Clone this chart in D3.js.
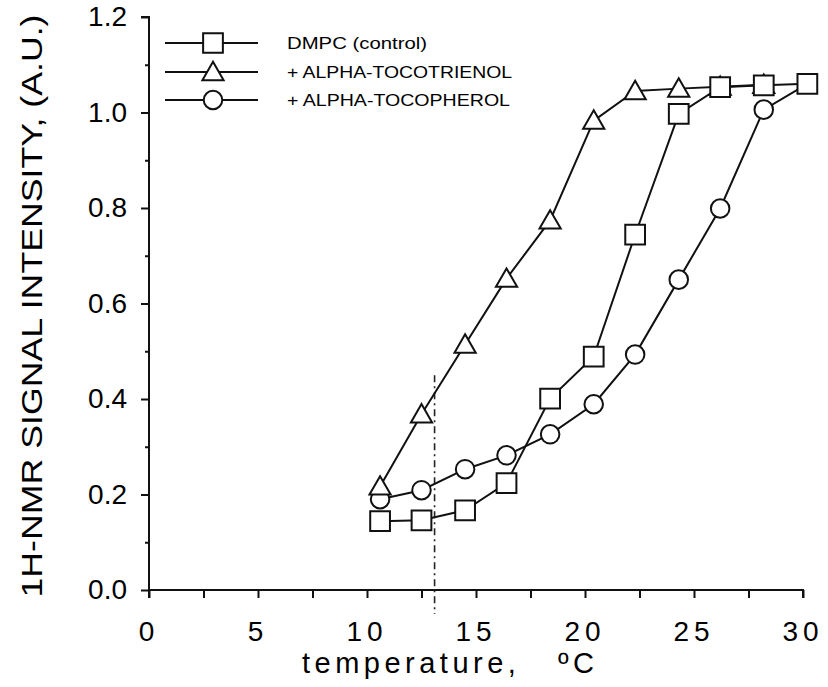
<!DOCTYPE html>
<html>
<head>
<meta charset="utf-8">
<script src="https://cdn.jsdelivr.net/npm/d3@7"></script>
<style>
  body { margin: 0; background: #fff; }
  svg { display: block; font-family: "Liberation Sans", Arial, sans-serif; }
</style>
</head>
<body>
<div id="chart"></div>
<script>
// temperature (deg C)
var temps = [10.6, 12.5, 14.5, 16.4, 18.4, 20.4, 22.3, 24.3, 26.2, 28.2, 30.2];
var dmpc = [0.144, 0.146, 0.167, 0.224, 0.401, 0.489, 0.744, 0.997, 1.053, 1.057, 1.06];
var tocotrienol = [0.217, 0.368, 0.514, 0.652, 0.774, 0.983, 1.045, 1.05, 1.054, 1.058];
var tocopherol = [0.19, 0.209, 0.253, 0.282, 0.326, 0.389, 0.493, 0.65, 0.799, 1.006, 1.06];

var xTicks = [0, 2.5, 5, 7.5, 10, 12.5, 15, 17.5, 20, 22.5, 25, 27.5, 30];
var xLabels = [0, 5, 10, 15, 20, 25, 30];
var yTicks = [0, 0.2, 0.4, 0.6, 0.8, 1.0, 1.2];
var yMinor = [0.1, 0.3, 0.5, 0.7, 0.9, 1.1];

var legendNames = ["DMPC (control)", "+ ALPHA-TOCOTRIENOL", "+ ALPHA-TOCOPHEROL"];
var legendShapes = ["square", "triangle", "circle"];
var guideTemp = 13.1;

var size = { width: 828, height: 687 };

var svg = d3.select('#chart')
            .append('svg')
            .attr('width', size.width)
            .attr('height', size.height);

var x = d3.scaleLinear().domain([0, 30]).range([149, 803]);
var y = d3.scaleLinear().domain([0, 1.2]).range([590, 17]);

// axes
var xAxis = svg.append('g')
  .attr('transform', 'translate(0,' + y(0) + ')')
  .call(d3.axisBottom(x).tickValues(xTicks).tickSize(8).tickFormat(''));
xAxis.select('.domain').attr('d', 'M' + x(0) + ',0H' + x(30) + 'V8');

var yAxis = svg.append('g')
  .attr('transform', 'translate(' + x(0) + ',0)')
  .call(d3.axisLeft(y).tickValues(yTicks).tickSize(8).tickPadding(14).tickFormat(d3.format('.1f')));
yAxis.select('.domain').attr('d', 'M-8,' + y(1.2) + 'H0V' + (y(0) + 8));
yAxis.selectAll('text').style('font-size', '28px');

svg.append('g')
  .attr('transform', 'translate(' + x(0) + ',0)')
  .call(d3.axisLeft(y).tickValues(yMinor).tickSize(4).tickFormat(''))
  .select('.domain').remove();

svg.selectAll('.domain, .tick line').attr('stroke', '#111').attr('stroke-width', 2);

svg.append('g').selectAll('text')
  .data(xLabels)
  .join('text')
  .attr('x', function(d) { return x(d); })
  .attr('y', 641)
  .attr('text-anchor', 'middle')
  .style('font-size', '28px')
  .style('letter-spacing', '5px')
  .text(function(d) { return d; });

// titles
svg.append('text')
  .attr('x', 448).attr('y', 673)
  .attr('text-anchor', 'middle')
  .attr('textLength', 292)
  .attr('lengthAdjust', 'spacing')
  .style('font-size', '29px')
  .style('white-space', 'pre')
  .text('temperature,   ºC');

svg.append('text')
  .attr('transform', 'translate(42,306) rotate(-90)')
  .attr('text-anchor', 'middle')
  .attr('textLength', 583)
  .attr('lengthAdjust', 'spacingAndGlyphs')
  .style('font-size', '30px')
  .text('1H-NMR SIGNAL INTENSITY, (A.U.)');

// dash-dot guide line
svg.append('line')
  .attr('x1', x(guideTemp)).attr('x2', x(guideTemp))
  .attr('y1', y(0.45)).attr('y2', y(-0.05))
  .attr('stroke', '#222')
  .attr('stroke-width', 1.6)
  .attr('stroke-dasharray', '7,4,2,4');

var sym = {
  square: d3.symbol().type(d3.symbolSquare).size(390),
  triangle: d3.symbol().type(d3.symbolTriangle).size(195),
  circle: d3.symbol().type(d3.symbolCircle).size(270)
};

var line = d3.line()
  .x(function(d) { return x(d[0]); })
  .y(function(d) { return y(d[1]); });

var series = [
  { vals: dmpc, shape: 'square' },
  { vals: tocopherol, shape: 'circle' },
  { vals: tocotrienol, shape: 'triangle' }
];

series.forEach(function(s) {
  var pts = s.vals.map(function(v, i) { return [temps[i], v]; });
  svg.append('path')
    .attr('d', line(pts))
    .attr('fill', 'none')
    .attr('stroke', '#111')
    .attr('stroke-width', 2);
});

// squares last so the end square sits on top
[series[1], series[2], series[0]].forEach(function(s) {
  var pts = s.vals.map(function(v, i) { return [temps[i], v]; });
  svg.append('g').selectAll('path')
    .data(pts)
    .join('path')
    .attr('d', sym[s.shape])
    .attr('transform', function(d) {
      var dy = s.shape === 'triangle' ? 2 : 0;
      return 'translate(' + x(d[0]) + ',' + (y(d[1]) + dy) + ')';
    })
    .attr('fill', '#fff')
    .attr('stroke', '#111')
    .attr('stroke-width', 2);
});

// legend
var legendRows = [43, 72, 100];
var legendWidths = [140, 225, 223];
var legend = svg.append('g');
legendNames.forEach(function(name, i) {
  var g = legend.append('g').attr('transform', 'translate(0,' + legendRows[i] + ')');
  g.append('line')
    .attr('x1', 165).attr('x2', 258)
    .attr('stroke', '#111').attr('stroke-width', 2);
  g.append('path')
    .attr('d', sym[legendShapes[i]])
    .attr('transform', 'translate(213,' + (legendShapes[i] === 'triangle' ? 2 : 0) + ')')
    .attr('fill', '#fff')
    .attr('stroke', '#111')
    .attr('stroke-width', 2);
  g.append('text')
    .attr('x', 287).attr('y', 6)
    .attr('textLength', legendWidths[i])
    .attr('lengthAdjust', 'spacingAndGlyphs')
    .style('font-size', '16px')
    .text(name);
});
</script>
</body>
</html>
